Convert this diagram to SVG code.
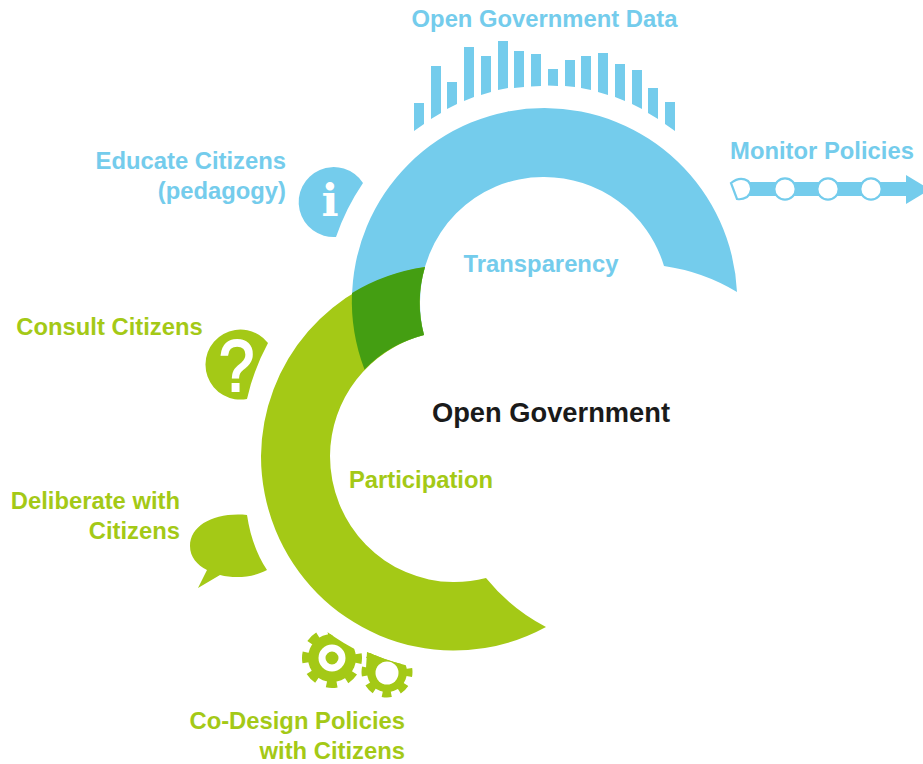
<svg xmlns="http://www.w3.org/2000/svg" width="923" height="764" viewBox="0 0 923 764">
<style>
.t{font-family:"Liberation Sans",Arial,sans-serif;font-weight:700;font-size:23.800px}
.b{fill:#74ccec}.g{fill:#a4c916}.w{fill:#fff}
.n{fill:#fff;stroke:#74ccec;stroke-width:2.200}
</style>
<defs>
<clipPath id="gc"><path clip-rule="evenodd" d="M250 600H450V720H250ZM238 456a218 218 0 1 0 436 0a218 218 0 1 0-436 0Z"/></clipPath>
<clipPath id="gd"><path clip-rule="evenodd" d="M250 600H450V720H250ZM241 456a215 215 0 1 0 430 0a215 215 0 1 0-430 0Z"/></clipPath>
</defs>
<rect width="923" height="764" fill="#fff"/>
<g id="connectors"/>
<g id="transparency">
<path class="b" d="M737 292A193 193 0 0 0 544.500 108A192.500 192.500 0 0 0 352 300A193 193 0 0 0 364.500 369.500A126 126 0 0 1 424 335A125 125 0 0 1 420 302A123 125 0 0 1 543 177A125 125 0 0 1 664 266A195 195 0 0 1 737 292Z"/>
<text class="t b" x="541" y="272" text-anchor="middle">Transparency</text>
</g>
<g id="participation">
<path class="g" d="M425 267A193 193 0 0 0 261 456A193 194.500 0 0 0 453 650.500A194 194 0 0 0 546 627A190 190 0 0 1 486 578A126 126 0 0 1 453 582A124 126 0 0 1 330 456A126 126 0 0 1 424 335A125 125 0 0 1 425 267Z"/>
<text class="t g" x="421" y="488" text-anchor="middle">Participation</text>
</g>
<g id="overlap"><path fill="#449e12" d="M425 267A193 193 0 0 0 352 293A193 193 0 0 0 364.500 369.500A126 126 0 0 1 424 335A125 125 0 0 1 425 267Z"/></g>
<g id="center"><text x="551" y="422" text-anchor="middle" font-family="Liberation Sans,Arial,sans-serif" font-weight="700" font-size="27.300" fill="#1a1a1a">Open Government</text></g>
<g id="open-data">
<text class="t b" x="544.500" y="27" text-anchor="middle">Open Government Data</text>
<path class="b" d="M414 103h10v21l-10 7ZM431 66h10v47l-10 6ZM447 82h10v22l-10 5ZM464 47h10v50l-10 4ZM481 56h10v36l-10 3ZM498 41h10v47l-10 2ZM514 51h10v36l-10 1ZM531 54h10v32l-10 0.500ZM548 69h10v17l-10-0.500ZM565 60h10v27l-10-1ZM581 56h10v34l-10-2ZM598 53h10v42l-10-3ZM615 64h10v37l-10-4ZM632 70h10v39l-10-5ZM648 88h10v31l-10-6ZM665 102h10v29l-10-7Z"/>
</g>
<g id="monitor">
<text class="t b" x="822" y="159" text-anchor="middle">Monitor Policies</text>
<rect class="b" x="745" y="182" width="165" height="14"/>
<path class="b" d="M906 175L930 189.500L906 204Z"/>
<path class="n" d="M731 183Q740 176 748 181Q755 189 747 197Q742 200 737 199Z"/>
<circle class="n" cx="785" cy="189" r="10.700"/>
<circle class="n" cx="828" cy="189" r="10.700"/>
<circle class="n" cx="871" cy="189" r="10.700"/>
</g>
<g id="educate">
<text class="t b" x="286" y="169" text-anchor="end">Educate Citizens</text>
<text class="t b" x="286" y="199" text-anchor="end">(pedagogy)</text>
<path class="b" d="M363 183A35 35 0 1 0 336 237A225 225 0 0 1 363 183Z"/>
<text x="330" y="216" text-anchor="middle" font-family="DejaVu Serif,serif" font-weight="700" font-size="45" fill="#fff">i</text>
</g>
<g id="consult">
<text class="t g" x="109.500" y="335" text-anchor="middle">Consult Citizens</text>
<path class="g" d="M268 343A35 35 0 1 0 247 399A215 215 0 0 1 268 343Z"/>
<text transform="translate(236.500 391) scale(.88 1)" text-anchor="middle" font-family="Liberation Sans,Arial,sans-serif" font-size="72" fill="#fff" stroke="#fff" stroke-width="2">?</text>
</g>
<g id="deliberate">
<text class="t g" x="180" y="509" text-anchor="end">Deliberate with</text>
<text class="t g" x="180" y="539" text-anchor="end">Citizens</text>
<path class="g" d="M247 515C215 512 190 525 190 546C190 557 197 565 207 570L198 588L220 575C236 579 254 577 267 570C256 553 250 535 247 515Z"/>
</g>
<g id="codesign">
<g clip-path="url(#gc)" class="g">
<circle cx="332" cy="658" r="24"/>
<circle cx="332" cy="658" r="26" fill="none" stroke="#a4c916" stroke-width="8" stroke-dasharray="10.500 9.920" stroke-dashoffset="5.250"/>
</g>
<g clip-path="url(#gd)" class="g">
<circle cx="387" cy="672" r="20"/>
<circle cx="387" cy="672" r="22" fill="none" stroke="#a4c916" stroke-width="7" stroke-dasharray="9 8.280" stroke-dashoffset="4.500"/>
<path d="M367 652L402 660L400 672L366 668Z"/>
</g>
<circle cx="332" cy="658" r="10" fill="none" stroke="#fff" stroke-width="7"/>
<circle cx="387" cy="673" r="11.500" fill="#fff"/>
<text class="t g" x="405" y="729" text-anchor="end">Co-Design Policies</text>
<text class="t g" x="405" y="759" text-anchor="end">with Citizens</text>
</g>
</svg>
